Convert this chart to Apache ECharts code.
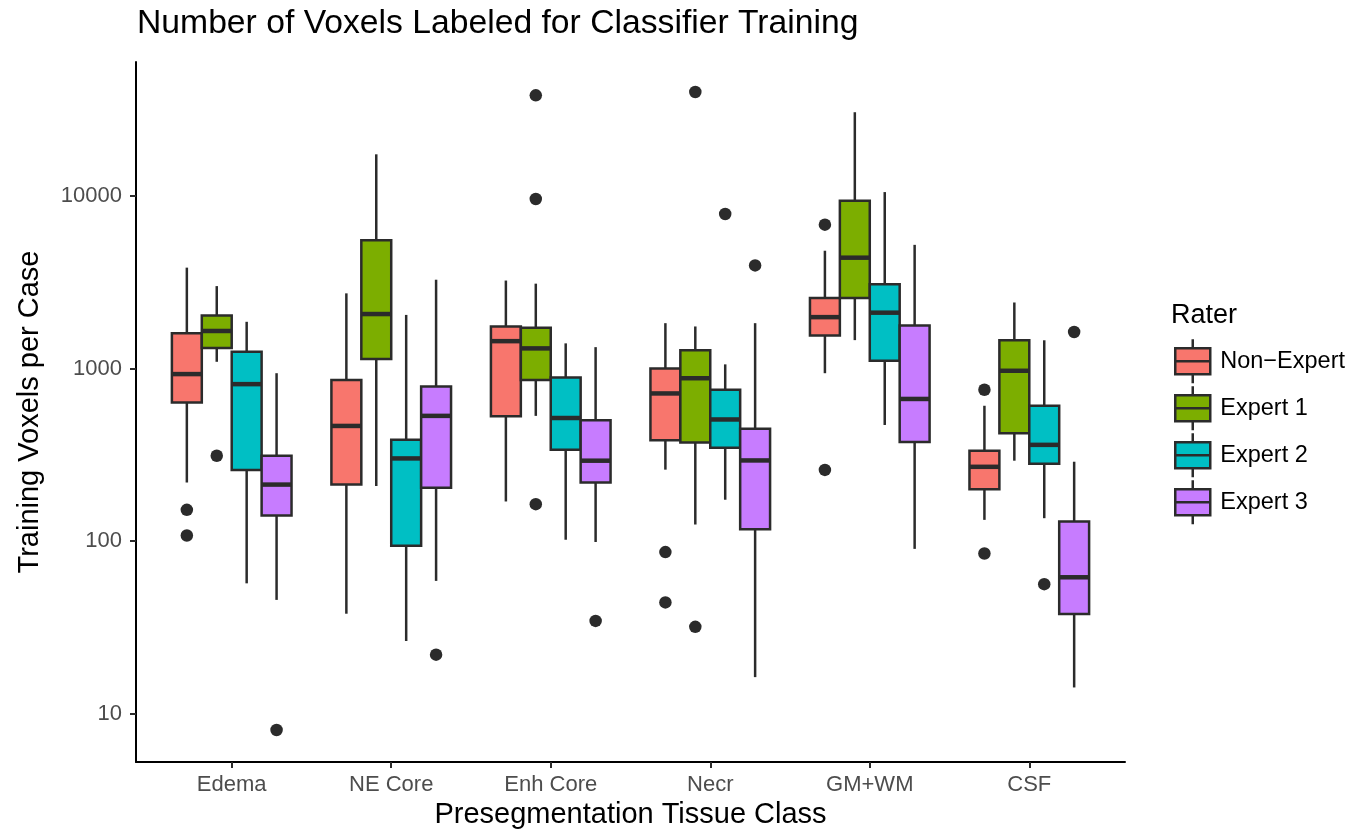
<!DOCTYPE html>
<html>
<head>
<meta charset="utf-8">
<title>Number of Voxels Labeled for Classifier Training</title>
<script src="https://cdn.jsdelivr.net/npm/echarts@6/dist/echarts.min.js"></script>
<style>
  html, body { margin: 0; padding: 0; background: #fff; }
  #chart { width: 1368px; height: 838px; }
</style>
</head>
<body>
<div id="chart"></div>
<script>
// tissue classes on the x axis
const categories = ['Edema', 'NE Core', 'Enh Core', 'Necr', 'GM+WM', 'CSF']
const raters = ['Non\u2212Expert', 'Expert 1', 'Expert 2', 'Expert 3']
const raterColors = ['#F8766D', '#7CAE00', '#00BFC4', '#C77CFF']
const yTicks = [10, 100, 1000, 10000]

// [lower whisker, Q1, median, Q3, upper whisker] per category
const nonExpertBoxes = [
  [219, 637, 931, 1604, 3855],
  [38, 213, 466, 859, 2735],
  [170, 530, 1445, 1758, 3245],
  [260, 385, 719, 1003, 1837],
  [942, 1556, 1991, 2570, 4831],
  [133, 200, 270, 335, 610]
]
const expert1Boxes = [
  [1097, 1318, 1655, 2037, 3013],
  [209, 1140, 2075, 5560, 17500],
  [533, 859, 1312, 1727, 3113],
  [125, 373, 881, 1279, 1758],
  [1465, 2570, 4403, 9420, 30690],
  [293, 423, 973, 1462, 2421]
]
const expert2Boxes = [
  [57, 259, 814, 1256, 1871],
  [26.4, 94, 302, 388, 2051],
  [102, 339, 518, 891, 1403],
  [174, 348, 508, 755, 1060],
  [472, 1112, 2113, 3092, 10570],
  [136, 281, 362, 610, 1462]
]
const expert3Boxes = [
  [45.7, 141, 213, 313, 942],
  [58.9, 204, 533, 789, 3281],
  [99, 219, 293, 502, 1334],
  [16.3, 117.5, 294, 449, 1837],
  [90.3, 376, 668, 1781, 5226],
  [14.2, 37.8, 61.8, 130, 289]
]

// outliers as [category index, value]
const nonExpertOutliers = [[0, 152], [0, 108], [3, 86.5], [3, 44.2], [4, 6840], [4, 259], [5, 755], [5, 84.9]]
const expert1Outliers = [[0, 313], [2, 38460], [2, 9640], [2, 164], [3, 40180], [3, 31.9]]
const expert2Outliers = [[3, 7890], [5, 56.4]]
const expert3Outliers = [[0, 8.05], [1, 22], [2, 34.5], [3, 3972], [5, 1633]]

const allBoxes = [nonExpertBoxes, expert1Boxes, expert2Boxes, expert3Boxes]
const allOutliers = [nonExpertOutliers, expert1Outliers, expert2Outliers, expert3Outliers]

const boxWidth = 0.1875 // in category units, 4 boxes dodge over 0.75
const edge = '#2b2b2b'

function offsetOf(r) {
  return (r - 1.5) * boxWidth
}

function renderBox(params, api) {
  const x = api.value(0)
  const low = api.coord([x, api.value(1)])
  const q1 = api.coord([x, api.value(2)])
  const med = api.coord([x, api.value(3)])
  const q3 = api.coord([x, api.value(4)])
  const high = api.coord([x, api.value(5)])
  const left = api.coord([x - boxWidth / 2, api.value(3)])[0]
  const right = api.coord([x + boxWidth / 2, api.value(3)])[0]
  return {
    type: 'group',
    children: [
      { type: 'line', shape: { x1: high[0], y1: high[1], x2: q3[0], y2: q3[1] }, style: { stroke: edge, lineWidth: 2.5 } },
      { type: 'line', shape: { x1: q1[0], y1: q1[1], x2: low[0], y2: low[1] }, style: { stroke: edge, lineWidth: 2.5 } },
      {
        type: 'rect',
        shape: { x: left, y: q3[1], width: right - left, height: q1[1] - q3[1] },
        style: { fill: api.visual('color'), stroke: edge, lineWidth: 2.5 }
      },
      { type: 'line', shape: { x1: left, y1: med[1], x2: right, y2: med[1] }, style: { stroke: edge, lineWidth: 4.5 } }
    ]
  }
}

const series = []
raters.forEach((name, r) => {
  series.push({
    name: name,
    type: 'custom',
    renderItem: renderBox,
    itemStyle: { color: raterColors[r], borderColor: edge, borderWidth: 2.5 },
    encode: { x: 0, y: [1, 2, 3, 4, 5] },
    data: allBoxes[r].map((b, i) => [i + 1 + offsetOf(r)].concat(b)),
    z: 2
  })
})
raters.forEach((name, r) => {
  series.push({
    name: name + ' outliers',
    type: 'scatter',
    symbolSize: 12.5,
    itemStyle: { color: edge, opacity: 1 },
    data: allOutliers[r].map(o => [o[0] + 1 + offsetOf(r), o[1]]),
    silent: true,
    z: 3
  })
})

const catPositions = categories.map((c, i) => i + 1)

const chart = echarts.init(document.getElementById('chart'))
chart.setOption({
  animation: false,
  backgroundColor: '#fff',
  textStyle: { fontFamily: 'Liberation Sans, Arial, sans-serif' },
  title: [
    {
      text: 'Number of Voxels Labeled for Classifier Training',
      left: 137,
      top: 7,
      padding: 0,
      textStyle: { fontSize: 33.7, fontWeight: 'normal', color: '#000' }
    },
    {
      text: 'Rater',
      left: 1171,
      top: 302,
      padding: 0,
      textStyle: { fontSize: 27, fontWeight: 'normal', color: '#000' }
    }
  ],
  legend: {
    data: raters,
    orient: 'vertical',
    left: 1174,
    top: 338,
    padding: 0,
    itemWidth: 37,
    itemHeight: 44,
    itemGap: 0.5,
    icon: 'path://M18.5,0 V9 M1,9 H36 V35 H1 Z M1,22 H36 M18.5,35 V44',
    itemStyle: { borderColor: edge, borderWidth: 2.5 },
    textStyle: { fontSize: 23.5, color: '#000', padding: [0, 0, 0, 4] },
    selectedMode: false
  },
  grid: {
    left: 136,
    right: 243,
    top: 62,
    bottom: 76
  },
  xAxis: {
    type: 'value',
    min: 0.4,
    max: 6.6,
    name: 'Presegmentation Tissue Class',
    nameLocation: 'middle',
    nameGap: 37,
    nameTextStyle: { fontSize: 29, color: '#000' },
    axisLine: { lineStyle: { color: '#000', width: 2 } },
    axisTick: { customValues: catPositions, length: 6, lineStyle: { color: edge, width: 2 } },
    axisLabel: {
      customValues: catPositions,
      formatter: v => categories[Math.round(v) - 1],
      fontSize: 22,
      color: '#4d4d4d',
      margin: 12
    },
    splitLine: { show: false }
  },
  yAxis: {
    type: 'log',
    logBase: 10,
    min: 5.25,
    max: 60000,
    name: 'Training Voxels per Case',
    nameLocation: 'middle',
    nameGap: 92,
    nameTextStyle: { fontSize: 29, color: '#000' },
    axisLine: { show: true, lineStyle: { color: '#000', width: 2 } },
    axisTick: { show: true, customValues: yTicks, length: 6, lineStyle: { color: edge, width: 2 } },
    axisLabel: {
      customValues: yTicks,
      formatter: v => String(Math.round(v)),
      fontSize: 22,
      color: '#4d4d4d',
      margin: 14
    },
    splitLine: { show: false }
  },
  series: series
})
</script>
</body>
</html>
